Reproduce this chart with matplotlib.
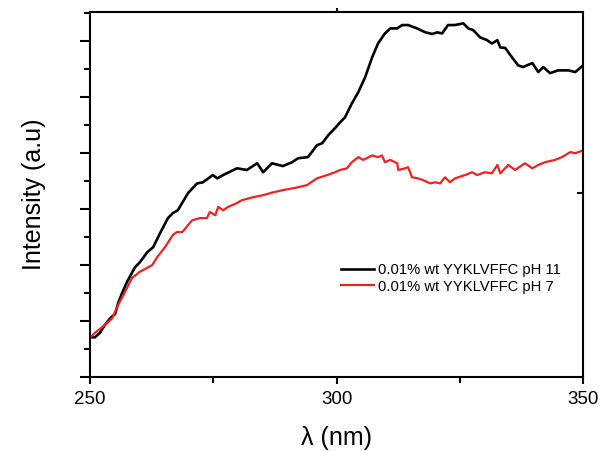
import matplotlib
matplotlib.use('Agg')
import matplotlib.pyplot as plt
from matplotlib.ticker import MultipleLocator, NullFormatter

plt.rcParams['font.family'] = ['Liberation Sans', 'DejaVu Sans']

# pH 11 spectrum (black)
wl_ph11 = [250.4, 251.0, 252.0, 253.0, 254.1, 255.1, 255.7, 256.5, 257.5, 259.1,
           260.1, 261.6, 262.8, 264.2, 265.8, 266.8, 267.8, 269.9, 271.7, 272.9,
           274.9, 275.8, 277.0, 279.8, 281.8, 283.9, 285.1, 286.9, 289.1, 291.0,
           292.2, 294.2, 296.0, 297.1, 298.3, 299.7, 300.7, 301.7, 303.1, 304.4,
           305.8, 307.2, 308.4, 309.8, 310.9, 312.3, 313.3, 314.5, 316.3, 318.0,
           319.4, 320.4, 321.4, 322.6, 324.0, 325.7, 326.7, 327.7, 329.1, 330.5,
           331.5, 332.6, 333.2, 334.2, 335.6, 336.8, 337.8, 339.7, 340.9, 341.9,
           343.3, 344.9, 347.0, 348.4, 350.0]
int_ph11 = [0.71, 0.71, 0.79, 0.93, 1.05, 1.13, 1.32, 1.50, 1.70, 1.96,
            2.05, 2.23, 2.32, 2.57, 2.84, 2.93, 2.98, 3.29, 3.46, 3.48,
            3.61, 3.55, 3.61, 3.73, 3.70, 3.82, 3.66, 3.82, 3.77, 3.84,
            3.91, 3.93, 4.14, 4.18, 4.32, 4.45, 4.55, 4.64, 4.89, 5.09,
            5.36, 5.71, 5.96, 6.14, 6.23, 6.23, 6.29, 6.29, 6.23, 6.16,
            6.13, 6.16, 6.14, 6.29, 6.29, 6.32, 6.23, 6.20, 6.07, 6.02,
            5.96, 6.02, 5.89, 5.88, 5.71, 5.57, 5.54, 5.61, 5.45, 5.54,
            5.43, 5.48, 5.48, 5.45, 5.57]

# pH 7 spectrum (red)
wl_ph7 = [250.0, 251.0, 253.0, 254.5, 255.7, 257.1, 258.5, 260.1, 262.6, 263.6,
          265.2, 266.8, 267.6, 268.7, 270.7, 272.3, 273.7, 274.3, 275.4, 276.0,
          277.0, 278.0, 279.8, 280.8, 282.9, 285.1, 287.1, 289.1, 291.6, 294.0,
          296.0, 298.1, 299.7, 300.7, 302.1, 303.1, 304.4, 305.4, 307.2, 308.4,
          309.2, 309.8, 310.9, 312.3, 312.5, 313.9, 314.5, 315.3, 316.5, 317.5,
          319.0, 320.0, 321.0, 322.0, 323.0, 324.0, 326.1, 327.5, 328.5, 330.1,
          331.5, 332.6, 333.2, 334.8, 336.2, 338.2, 339.7, 340.9, 342.3, 344.3,
          345.7, 347.4, 348.4, 350.0]
int_ph7 = [0.70, 0.79, 0.93, 1.05, 1.29, 1.52, 1.77, 1.88, 2.00, 2.14,
           2.32, 2.54, 2.59, 2.59, 2.80, 2.84, 2.84, 2.95, 2.89, 3.04,
           2.98, 3.04, 3.11, 3.16, 3.21, 3.25, 3.30, 3.34, 3.38, 3.43,
           3.55, 3.61, 3.66, 3.70, 3.73, 3.84, 3.93, 3.88, 3.96, 3.93,
           3.96, 3.84, 3.88, 3.82, 3.70, 3.73, 3.75, 3.57, 3.55, 3.52,
           3.46, 3.48, 3.46, 3.57, 3.48, 3.55, 3.61, 3.66, 3.61, 3.66,
           3.64, 3.79, 3.64, 3.79, 3.70, 3.82, 3.73, 3.79, 3.84, 3.88,
           3.93, 4.02, 4.00, 4.05]

labels = ['0.01% wt YYKLVFFC pH 11', '0.01% wt YYKLVFFC pH 7']

fig = plt.figure(figsize=(6.01, 4.51), dpi=100)
ax = fig.add_axes([0.1498, 0.164, 0.8205, 0.809])

ax.plot(wl_ph11, int_ph11, color='black', lw=1.9, label=labels[0])
ax.plot(wl_ph7, int_ph7, color='#ee2222', lw=1.6, label=labels[1])

ax.set_xlim(250, 350)
ax.set_ylim(0, 6.52)

ax.xaxis.set_major_locator(MultipleLocator(50))
ax.xaxis.set_minor_locator(MultipleLocator(25))
ax.yaxis.set_major_locator(MultipleLocator(1))
ax.yaxis.set_minor_locator(MultipleLocator(0.5))
ax.yaxis.set_major_formatter(NullFormatter())

for s in ax.spines.values():
    s.set_linewidth(1.5)

ax.tick_params(axis='x', which='major', direction='out', length=5, width=1.5,
               labelsize=13.5, pad=5)
ax.tick_params(axis='x', which='minor', direction='out', length=4, width=1.5)
ax.tick_params(axis='y', which='major', direction='out', length=7, width=1.5)
ax.tick_params(axis='y', which='minor', direction='out', length=4, width=1.5)

# stray ticks on the top and right frame
top = ax.secondary_xaxis('top')
top.set_xticks([300])
top.tick_params(direction='out', length=3, width=1.5, labeltop=False)
right = ax.secondary_yaxis('right')
right.set_yticks([3.29])
right.tick_params(direction='in', length=4, width=1.5, labelright=False)
for s in list(top.spines.values()) + list(right.spines.values()):
    s.set_visible(False)

ax.set_xlabel('λ (nm)', fontsize=18, labelpad=13)
ax.set_ylabel('Intensity (a.u)', fontsize=18, labelpad=21)

ax.legend(loc='center left', bbox_to_anchor=(0.508, 0.27), frameon=False,
          fontsize=10.6, handlelength=2.3, handletextpad=0.25, labelspacing=0.15,
          borderpad=0, borderaxespad=0)

fig.savefig('out.png', dpi=100)
